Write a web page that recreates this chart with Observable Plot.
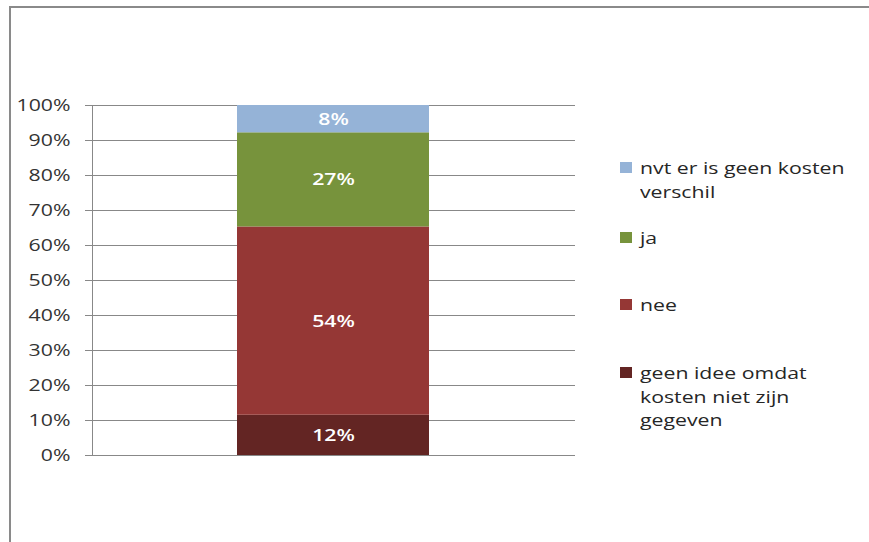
<!DOCTYPE html>
<html>
<head>
<meta charset="utf-8">
<script src="https://cdn.jsdelivr.net/npm/d3@7"></script>
<script src="https://cdn.jsdelivr.net/npm/@observablehq/plot@0.6"></script>
<style>
  html, body { margin: 0; padding: 0; background: #fff; }
  #wrap { position: relative; width: 869px; height: 542px; overflow: hidden; }
  #frame { position: absolute; left: 9px; top: 6px; width: 900px; height: 600px; border-left: 2px solid #8a8a8a; border-top: 2px solid #8a8a8a; box-sizing: border-box; }
  #legend { position: absolute; left: 620px; top: 0; font-family: "Open Sans", sans-serif; font-size: 17px; color: #262626; }
  .item { position: absolute; left: 0; width: 240px; line-height: 23.5px; }
  .sw { position: absolute; left: 0; top: 6px; width: 12px; height: 11px; }
  .lbl { margin-left: 20px; transform: scaleX(1.25); transform-origin: 0 0; white-space: nowrap; }
  #chart { position: absolute; left: 0; top: 0; }
</style>
</head>
<body>
<div id="wrap">
  <div id="frame"></div>
  <div id="chart"></div>
  <div id="legend"></div>
</div>
<script>
const categories = ["geen idee omdat kosten niet zijn gegeven", "nee", "ja", "nvt er is geen kosten verschil"];
const values = [11.5, 53.8, 26.9, 7.8];
const colors = ["#632523", "#953735", "#77933C", "#95B3D7"];
const yTicks = [0, 0.1, 0.2, 0.3, 0.4, 0.5, 0.6, 0.7, 0.8, 0.9, 1.0];
const legendOrder = ["nvt er is geen kosten verschil", "ja", "nee", "geen idee omdat kosten niet zijn gegeven"];
const legendLines = [["nvt er is geen kosten", "verschil"], ["ja"], ["nee"], ["geen idee omdat", "kosten niet zijn", "gegeven"]];

const data = categories.map((c, i) => ({bar: "", cat: c, value: values[i] / 100, label: Math.round(values[i]) + "%"}));

const chart = Plot.plot({
  width: 869,
  height: 542,
  marginLeft: 92,
  marginRight: 294,
  marginTop: 105,
  marginBottom: 87,
  style: {fontFamily: "Open Sans, sans-serif", fontSize: "17px", color: "#333", background: "transparent"},
  x: {domain: [""], padding: 0.43, axis: null},
  y: {domain: [0, 1], ticks: yTicks, tickFormat: d => Math.round(d * 100) + "%", label: null},
  color: {domain: categories, range: colors},
  marks: [
    Plot.gridY(yTicks, {stroke: "#888", strokeOpacity: 1, strokeWidth: 1}),
    Plot.axisY(yTicks, {tickSize: 7, stroke: "#888", tickPadding: 15, fontSize: 17, fill: "#333", label: null, tickFormat: d => Math.round(d * 100) + "%"}),
    Plot.frame({anchor: "left", stroke: "#888", strokeWidth: 1}),
    Plot.barY(data, {x: "bar", y: "value", fill: "cat", order: null}),
    Plot.text(data, Plot.stackY({x: "bar", y: "value", z: "cat", order: null, text: "label", fill: "white", fontWeight: 600, fontSize: 17})),
    Plot.ruleY([0], {stroke: "#888"})
  ]
});
document.getElementById("chart").appendChild(chart);

// stretch glyphs horizontally like the original rendering
chart.querySelectorAll("text").forEach(t => {
  const len = t.getComputedTextLength();
  if (len > 0) {
    t.setAttribute("textLength", (len * 1.25).toFixed(1));
    t.setAttribute("lengthAdjust", "spacingAndGlyphs");
  }
});

const legend = document.getElementById("legend");
const tops = [156, 226, 293, 361];
legendOrder.forEach((c, i) => {
  const it = document.createElement("div");
  it.className = "item";
  it.style.top = tops[i] + "px";
  const sw = document.createElement("div");
  sw.className = "sw";
  sw.style.background = colors[categories.indexOf(c)];
  it.appendChild(sw);
  const l = document.createElement("div");
  l.className = "lbl";
  l.innerHTML = legendLines[i].join("<br>");
  it.appendChild(l);
  legend.appendChild(it);
});
</script>
</body>
</html>
